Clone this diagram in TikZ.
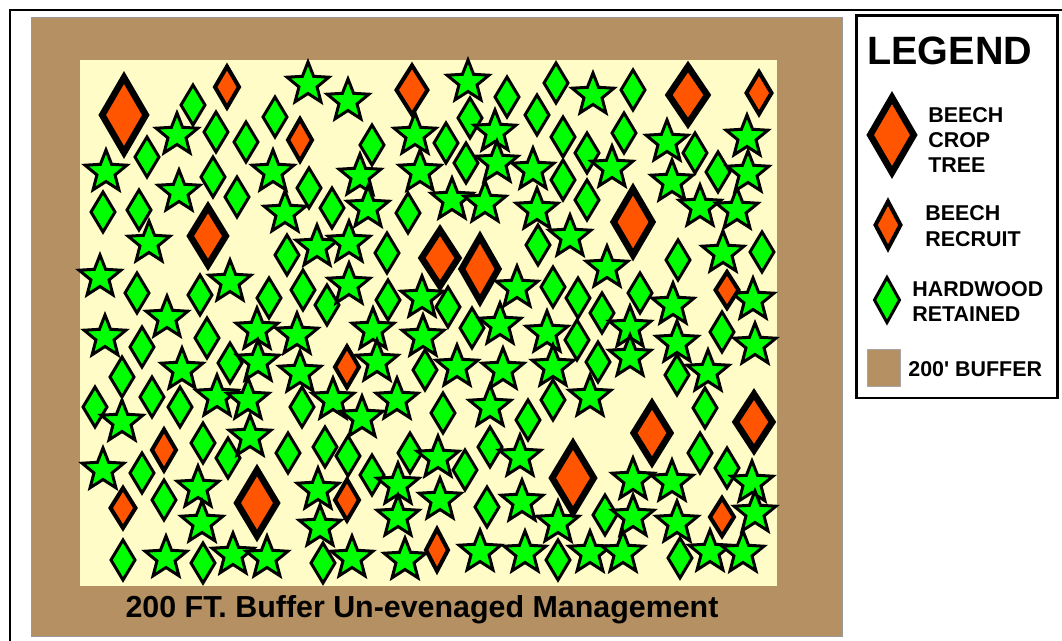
\documentclass[tikz,border=0pt]{standalone}
\usepackage{fontspec}
\setmainfont{Liberation Sans}
\definecolor{bufbrown}{RGB}{180,144,98}
\definecolor{cream}{RGB}{255,252,200}
\definecolor{tgreen}{RGB}{0,255,0}
\definecolor{torange}{RGB}{255,85,0}
\begin{document}
\begin{tikzpicture}[x=0.02cm,y=-0.02cm,
  gdst/.style={fill=tgreen,draw=black,line width=1.7pt,line join=miter},
  gsst/.style={fill=tgreen,draw=black,line width=1.7pt,line join=miter},
  osst/.style={fill=torange,draw=black,line width=2.3pt,line join=miter},
  obst/.style={fill=torange,draw=black,line width=3.7pt,line join=miter},
  captxt/.style={inner sep=0pt,font=\bfseries\fontsize{17.3}{20}\selectfont},
  legtxt/.style={anchor=base west,inner sep=0pt,font=\bfseries\fontsize{12.2}{14}\selectfont}]
\useasboundingbox (0,0) rectangle (1062,641);
\clip (0,0) rectangle (1062,641);
\fill[white] (0,0) rectangle (1062,641);
% outer frame
\draw[line width=1.5pt] (10,10) rectangle (1080,660);
% buffer and stand
\draw[fill=bufbrown,draw=gray!80,line width=0.5pt] (31,17) rectangle (842,636);
\fill[cream] (80,60) rectangle (777,586);
% green diamonds
\foreach \x/\y in {193/105,216/132,246/142,275/117,147/157,213/177,309/188,332/208,103/212,139/210,
  237/197,137/293,200/295,269/298,287/255,303/290,327/305,142/347,207/338,230/363,122/377,152/397,
  180/407,95/407,302/407,142/473,164/500,203/443,228/458,288/453,325/447,348/456,123/560,203/563,323/563,
  507/97,556/83,633/90,372/145,446/143,470/118,537/115,563/137,587/153,624/133,695/153,466/163,563/180,
  587/200,408/213,387/253,388/300,448/307,472/328,538/245,553/287,578/298,602/313,640/293,678/260,
  577/340,425/370,598/362,677/375,443/413,528/420,553/400,372/475,410/453,465/470,490/447,487/507,
  605/515,558/560,680/558,700/453,718/172,762/252,722/332,705/408,727/468}
  {\draw[gdst] (\x,\y) +(0,-20) -- +(12,0) -- +(0,20) -- +(-12,0) -- cycle;}
% green stars
\foreach \x/\y in {308/84,348/101,177/135,106/172,273/172,179/192,285/213,360/176,149/243,100/277,
  230/282,317/247,349/285,349/243,167/318,105/337,257/330,258/362,297/335,182/370,217/397,248/400,
  122/422,300/373,333/400,103/470,198/488,250/437,318/490,202/523,166/558,233/555,267/558,320/527,
  468/82,593/95,415/135,495/132,667/142,420/172,497/163,533/170,612/168,672/182,368/208,452/200,
  485/203,537/210,700/207,422/298,517/288,500/325,570/237,607/268,673/305,547/333,630/328,373/330,
  423/337,377/362,457/367,503/370,553/367,630/357,677/343,397/400,490/407,590/397,362/418,398/485,
  438/458,440/500,398/517,520/457,522/502,633/480,672/482,558/523,633/517,677/523,352/558,405/560,
  480/552,525/553,590/553,623/553,747/137,748/173,737/210,723/253,753/300,755/345,708/372,752/483,
  755/513,710/552,743/553}
  {\draw[gsst] (\x,\y) +(270:22) -- +(306:9.5) -- +(342:22) -- +(18:9.5) -- +(54:22) -- +(90:9.5)
     -- +(126:22) -- +(162:9.5) -- +(198:22) -- +(234:9.5) -- cycle;}
% beech recruits
\foreach \x/\y/\w/\h in {227/87/12/20.5,412/90/15.5/24.5,759/93/12.5/21,300/140/12/21,347/367/12/20.5,
  727/290/11.5/18,164/450/12/20.5,123/508/12.5/20,347/500/12/20.5,437/550/11/21,722/517/12/19}
  {\draw[osst] (\x,\y) +(0,-\h) -- +(\w,0) -- +(0,\h) -- +(-\w,0) -- cycle;}
% beech crop trees
\foreach \x/\y/\w/\h in {124/115/21.8/37.5,688/95/19.3/28.5,633/222/19.3/33,440/258/18.3/28,
  480/269/18.3/32,208/236/17.8/29,257/503/19.8/33,573/478/20.8/34.5,652/433/18.3/29.5,754/422/18.3/28}
  {\draw[obst] (\x,\y) +(0,-\h) -- +(\w,0) -- +(0,\h) -- +(-\w,0) -- cycle;}
% caption
\node[captxt,anchor=base] (cap) at (422,618) {200 FT. Buffer Un-evenaged Management};
% legend
\draw[line width=1.7pt] (856,16) rectangle (1057,398);
\node[anchor=base west,inner sep=0pt,font=\bfseries\fontsize{22.5}{26}\selectfont] (legt) at (867,65) {LEGEND};
\draw[obst] (892,135) +(0,-37.5) -- +(21.8,0) -- +(0,37.5) -- +(-21.8,0) -- cycle;
\node[legtxt] (l1a) at (928,123) {BEECH};
\node[legtxt] (l1b) at (928,148) {CROP};
\node[legtxt] (l1c) at (928,173) {TREE};
\draw[osst] (888,225) +(0,-23.5) -- +(12.5,0) -- +(0,23.5) -- +(-12.5,0) -- cycle;
\node[legtxt] (l2a) at (925,221) {BEECH};
\node[legtxt] (l2b) at (925,247) {RECRUIT};
\draw[gdst] (887,300) +(0,-22.5) -- +(12.5,0) -- +(0,22.5) -- +(-12.5,0) -- cycle;
\node[legtxt] (l3a) at (912,297) {HARDWOOD};
\node[legtxt] (l3b) at (912,322) {RETAINED};
\draw[fill=bufbrown,draw=gray!70,line width=0.5pt] (867,349) rectangle (900,386);
\node[legtxt] (l4) at (908,377) {200\textquotesingle{} BUFFER};
\end{tikzpicture}
\end{document}
